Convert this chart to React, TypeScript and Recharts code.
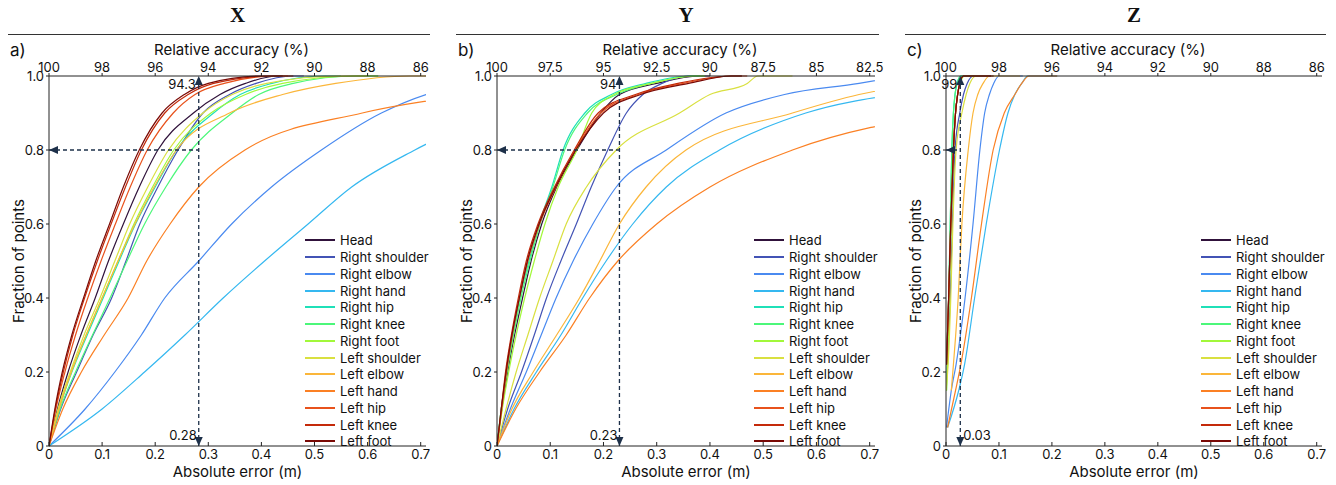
import React from 'react';
import { LineChart, Line, XAxis, YAxis, ReferenceLine, ReferenceDot } from 'recharts';

const FONT = 'Inter, "Noto Sans", sans-serif';
const INK = '#1d3049';

const joints = [
  'Head', 'Right shoulder', 'Right elbow', 'Right hand', 'Right hip', 'Right knee', 'Right foot',
  'Left shoulder', 'Left elbow', 'Left hand', 'Left hip', 'Left knee', 'Left foot',
];
const jointColors = [
  '#30123b', '#4353b5', '#4a8af0', '#35b8f0', '#1fe0b8', '#4cf77a', '#a2f83a',
  '#d9e040', '#fbb63a', '#fb8024', '#e8521c', '#c42a0a', '#7a0a06',
];

const errorTicks = [0, 0.1, 0.2, 0.3, 0.4, 0.5, 0.6, 0.7];
const fractionTicks = [0, 0.2, 0.4, 0.6, 0.8, 1];

// fraction levels at which the error of each curve was read (last entry = end of the flat tail)
const fractionLevels = [0, 0.1, 0.2, 0.3, 0.4, 0.5, 0.6, 0.7, 0.8, 0.9, 0.95, 0.98, 1, 1];
const zFractionLevels = [0.05, 0.15, 0.22, 0.4, 0.6, 0.8, 0.9, 0.95, 0.98, 1, 1];

// absolute error (m) per joint, X direction
const xErrors = [
  [0, 0.016, 0.036, 0.06, 0.087, 0.112, 0.14, 0.17, 0.205, 0.272, 0.322, 0.37, 0.43, 0.46],
  [0, 0.022, 0.052, 0.083, 0.118, 0.145, 0.171, 0.205, 0.243, 0.29, 0.34, 0.39, 0.46, 0.48],
  [0, 0.068, 0.124, 0.174, 0.218, 0.282, 0.344, 0.419, 0.513, 0.626, 0.71, 0.8, null, null],
  [0, 0.1, 0.18, 0.256, 0.328, 0.406, 0.488, 0.57, 0.689, 0.84, null, null, null, null],
  [0, 0.019, 0.043, 0.072, 0.102, 0.132, 0.163, 0.2, 0.24, 0.31, 0.36, 0.42, 0.52, 0.55],
  [0, 0.021, 0.05, 0.082, 0.115, 0.147, 0.18, 0.22, 0.268, 0.345, 0.395, 0.46, 0.58, 0.62],
  [0, 0.018, 0.042, 0.07, 0.1, 0.13, 0.16, 0.195, 0.235, 0.305, 0.37, 0.44, 0.58, 0.62],
  [0, 0.017, 0.04, 0.066, 0.096, 0.124, 0.152, 0.186, 0.225, 0.29, 0.345, 0.41, 0.55, 0.6],
  [0, 0.019, 0.042, 0.07, 0.1, 0.13, 0.162, 0.198, 0.24, 0.34, 0.44, 0.54, 0.68, 0.71],
  [0, 0.026, 0.061, 0.104, 0.149, 0.184, 0.228, 0.282, 0.369, 0.59, 0.8, null, null, null],
  [0, 0.013, 0.03, 0.05, 0.073, 0.098, 0.125, 0.153, 0.185, 0.234, 0.275, 0.33, 0.43, 0.46],
  [0, 0.012, 0.027, 0.045, 0.067, 0.091, 0.117, 0.144, 0.174, 0.218, 0.262, 0.31, 0.42, 0.45],
  [0, 0.011, 0.025, 0.043, 0.065, 0.088, 0.114, 0.14, 0.17, 0.213, 0.255, 0.3, 0.4, 0.44],
];

// Y direction
const yErrors = [
  [0, 0.009, 0.02, 0.033, 0.048, 0.064, 0.084, 0.112, 0.15, 0.195, 0.23, 0.3, 0.38, 0.4],
  [0, 0.02, 0.046, 0.07, 0.093, 0.12, 0.149, 0.177, 0.208, 0.243, 0.274, 0.31, 0.36, 0.38],
  [0, 0.025, 0.055, 0.083, 0.111, 0.143, 0.18, 0.224, 0.318, 0.43, 0.54, 0.68, 0.76, null],
  [0, 0.032, 0.074, 0.12, 0.161, 0.205, 0.255, 0.318, 0.418, 0.58, 0.75, null, null, null],
  [0, 0.008, 0.018, 0.03, 0.043, 0.06, 0.079, 0.103, 0.124, 0.165, 0.215, 0.28, 0.36, 0.38],
  [0, 0.008, 0.019, 0.031, 0.045, 0.062, 0.081, 0.105, 0.127, 0.17, 0.225, 0.29, 0.37, 0.39],
  [0, 0.01, 0.022, 0.036, 0.052, 0.07, 0.09, 0.115, 0.15, 0.178, 0.22, 0.29, 0.37, 0.39],
  [0, 0.017, 0.036, 0.058, 0.08, 0.105, 0.13, 0.168, 0.224, 0.343, 0.4, 0.47, 0.49, 0.555],
  [0, 0.028, 0.068, 0.112, 0.155, 0.193, 0.23, 0.28, 0.355, 0.555, 0.68, 0.8, null, null],
  [0, 0.035, 0.08, 0.13, 0.174, 0.227, 0.3, 0.4, 0.555, 0.85, null, null, null, null],
  [0, 0.009, 0.018, 0.029, 0.042, 0.058, 0.08, 0.111, 0.147, 0.195, 0.265, 0.35, 0.44, 0.46],
  [0, 0.008, 0.016, 0.027, 0.04, 0.055, 0.077, 0.108, 0.145, 0.19, 0.26, 0.34, 0.44, 0.47],
  [0, 0.008, 0.017, 0.028, 0.042, 0.057, 0.079, 0.11, 0.148, 0.2, 0.27, 0.36, 0.44, 0.46],
];

// Z direction (curves start above zero fraction)
const zErrors = [
  [null, null, 0.001, 0.005, 0.009, 0.014, 0.018, 0.022, 0.026, 0.033, 0.085],
  [null, null, 0.003, 0.008, 0.012, 0.017, 0.026, 0.033, 0.04, 0.052, 0.07],
  [0.001, 0.01, 0.019, 0.036, 0.051, 0.064, 0.073, 0.082, 0.09, 0.1, 0.145],
  [0.003, 0.024, 0.035, 0.054, 0.076, 0.101, 0.117, 0.13, 0.143, 0.154, 0.21],
  [null, null, 0.002, 0.005, 0.008, 0.011, 0.014, 0.017, 0.021, 0.028, 0.06],
  [null, 0.001, 0.002, 0.005, 0.008, 0.011, 0.014, 0.017, 0.021, 0.028, 0.06],
  [null, 0.001, 0.003, 0.006, 0.01, 0.014, 0.018, 0.022, 0.027, 0.035, 0.07],
  [null, 0, 0.004, 0.009, 0.013, 0.019, 0.03, 0.038, 0.045, 0.057, 0.08],
  [null, 0.01, 0.014, 0.023, 0.03, 0.042, 0.051, 0.06, 0.07, 0.082, 0.14],
  [0.003, 0.018, 0.028, 0.048, 0.067, 0.089, 0.11, 0.13, 0.143, 0.157, 0.21],
  [null, null, 0.001, 0.005, 0.009, 0.014, 0.018, 0.022, 0.026, 0.033, 0.085],
  [null, null, 0.001, 0.005, 0.009, 0.014, 0.018, 0.022, 0.026, 0.033, 0.085],
  [null, null, 0.001, 0.005, 0.009, 0.014, 0.018, 0.022, 0.026, 0.033, 0.09],
];

const panels = [
  { title: 'X', tag: 'a)', left: 0, plotLeft: 49, plotRight: 426, errors: xErrors, levels: fractionLevels,
    accPerMeter: 20, marker: 0.282, accLabel: '94.3', errLabel: '0.28', errRight: false },
  { title: 'Y', tag: 'b)', left: 448, plotLeft: 497, plotRight: 875, errors: yErrors, levels: fractionLevels,
    accPerMeter: 25, marker: 0.23, accLabel: '94', errLabel: '0.23', errRight: false },
  { title: 'Z', tag: 'c)', left: 897, plotLeft: 946, plotRight: 1322, errors: zErrors, levels: zFractionLevels,
    accPerMeter: 20, marker: 0.027, accLabel: '99', errLabel: '0.03', errRight: true },
];

const PLOT_TOP = 76;
const PLOT_BOTTOM = 446;
const H = 485;

const fmt = (v: number) => (v === 0 ? '0' : v.toFixed(1));

function Panel({ p }: { p: typeof panels[number] }) {
  const width = p.plotRight - p.left + 10;
  const tickStyle = { fill: '#111', fontSize: 13, fontFamily: FONT };
  const accFmt = (v: number) => String(Math.round((100 - v * p.accPerMeter) * 10) / 10);

  const upArrow = (props: any) => (
    <g>
      <polygon points={`${props.cx},${props.cy} ${props.cx - 4},${props.cy + 9} ${props.cx + 4},${props.cy + 9}`} fill={INK} />
      <text x={props.cx - 3} y={props.cy + 13} textAnchor="end" fontSize={13} fontFamily={FONT} fill="#111">{p.accLabel}</text>
    </g>
  );
  const downArrow = (props: any) => (
    <g>
      <polygon points={`${props.cx},${props.cy} ${props.cx - 4},${props.cy - 9} ${props.cx + 4},${props.cy - 9}`} fill={INK} />
      <text x={p.errRight ? props.cx + 3 : props.cx - 2} y={props.cy - 6} textAnchor={p.errRight ? 'start' : 'end'}
        fontSize={13} fontFamily={FONT} fill="#111">{p.errLabel}</text>
    </g>
  );
  const leftArrow = (props: any) => (
    <polygon points={`${props.cx},${props.cy} ${props.cx + 9},${props.cy - 4} ${props.cx + 9},${props.cy + 4}`} fill={INK} />
  );

  return (
    <div style={{ position: 'absolute', left: p.left, top: 0 }}>
      <LineChart width={width} height={H}
        margin={{ top: PLOT_TOP - 22, right: 10, bottom: H - PLOT_BOTTOM - 24, left: 9 }}>
        <XAxis xAxisId="top" orientation="top" type="number" dataKey="e" domain={[0, 0.71]} allowDataOverflow
          ticks={errorTicks} tickFormatter={accFmt} height={22} tickSize={3} tickMargin={1}
          stroke="#222" tick={tickStyle} interval={0} />
        <XAxis xAxisId="bottom" orientation="bottom" type="number" dataKey="e" domain={[0, 0.71]} allowDataOverflow
          ticks={errorTicks} tickFormatter={fmt} height={24} tickSize={-4} tickMargin={8}
          stroke="#222" tick={tickStyle} interval={0} />
        <YAxis type="number" dataKey="f" domain={[0, 1]} ticks={fractionTicks} tickFormatter={fmt}
          width={40} tickSize={3} tickMargin={2} stroke="#222" tick={tickStyle} interval={0} />
        {joints.map((name, i) => (
          <Line key={name} xAxisId="bottom" name={name} dataKey="f" type="monotone"
            data={p.levels.map((f, k) => ({ e: p.errors[i][k], f })).filter((d) => d.e != null)}
            stroke={jointColors[i]} strokeWidth={1.2} dot={false} isAnimationActive={false} />
        ))}
        <ReferenceLine xAxisId="bottom" segment={[{ x: p.marker, y: 0 }, { x: p.marker, y: 1 }]}
          stroke={INK} strokeDasharray="4 3" strokeWidth={1.3} />
        <ReferenceLine xAxisId="bottom" segment={[{ x: 0, y: 0.8 }, { x: p.marker, y: 0.8 }]}
          stroke={INK} strokeDasharray="4 3" strokeWidth={1.3} />
        <ReferenceDot xAxisId="bottom" x={p.marker} y={1} ifOverflow="visible" shape={upArrow} />
        <ReferenceDot xAxisId="bottom" x={p.marker} y={0} ifOverflow="visible" shape={downArrow} />
        <ReferenceDot xAxisId="bottom" x={0} y={0.8} ifOverflow="visible" shape={leftArrow} />
      </LineChart>
    </div>
  );
}

export default function App() {
  return (
    <div style={{ position: 'absolute', left: 0, top: 0, width: 1336, height: H, background: '#fff', fontFamily: FONT, color: '#111' }}>
      {panels.map((p) => {
        const mid = (p.plotLeft + p.plotRight) / 2;
        return (
          <React.Fragment key={p.title}>
            <Panel p={p} />
            <div style={{ position: 'absolute', left: mid - 20, width: 40, top: 3, textAlign: 'center',
              fontFamily: '"Liberation Serif", serif', fontWeight: 'bold', fontSize: 21 }}>{p.title}</div>
            <div style={{ position: 'absolute', left: p.plotLeft - 41, width: p.plotRight - p.plotLeft + 45, top: 34,
              height: 1, background: '#333' }} />
            <div style={{ position: 'absolute', left: p.plotLeft - 39, top: 40, fontSize: 17 }}>{p.tag}</div>
            <div style={{ position: 'absolute', left: mid - 150, width: 288, top: 40, textAlign: 'center', fontSize: 15 }}>
              Relative accuracy (%)</div>
            <div style={{ position: 'absolute', left: mid - 150, width: 300, top: 462, textAlign: 'center', fontSize: 15 }}>
              Absolute error (m)</div>
            <div style={{ position: 'absolute', left: p.plotLeft - 31, top: 261, whiteSpace: 'nowrap', fontSize: 15,
              transform: 'translate(-50%, -50%) rotate(-90deg)' }}>Fraction of points</div>
            <div style={{ position: 'absolute', left: p.plotRight - 121, top: 232 }}>
              {joints.map((name, i) => (
                <div key={name} style={{ height: 16.75, display: 'flex', alignItems: 'center', fontSize: 13 }}>
                  <div style={{ width: 30, height: 2, background: jointColors[i], marginRight: 5 }} />
                  <span>{name}</span>
                </div>
              ))}
            </div>
          </React.Fragment>
        );
      })}
    </div>
  );
}
